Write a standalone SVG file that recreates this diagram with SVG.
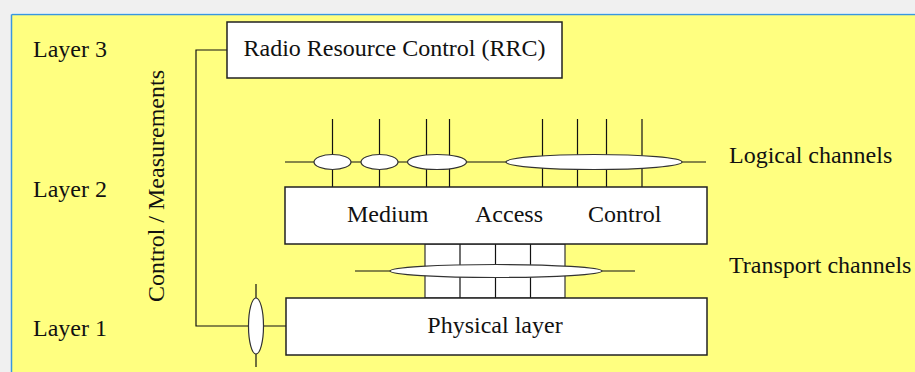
<svg xmlns="http://www.w3.org/2000/svg" width="915" height="372" viewBox="0 0 915 372">
  <style>
    .lbl { font-family: 'Liberation Serif', Tinos, 'Times New Roman', 'DejaVu Serif', serif; font-size: 24px; fill: #111; }
    .box { fill: #fff; stroke: #222; stroke-width: 1.5; }
    .ln { stroke: #111; stroke-width: 1.2; fill: none; }
    .ell { fill: #fff; stroke: #333; stroke-width: 1.2; }
  </style>

  <!-- page backdrop and framed panel -->
  <rect x="0" y="0" width="915" height="372" fill="#f0f0f0"/>
  <rect x="11" y="13" width="904" height="359" fill="#ffffff"/>
  <rect x="12" y="15" width="903" height="357" fill="#ffff80"/>
  <line x1="11.5" y1="14.5" x2="915" y2="14.5" stroke="#3a96e0" stroke-width="1.5"/>
  <line x1="11.5" y1="14.5" x2="11.5" y2="372" stroke="#3a96e0" stroke-width="1.5"/>

  <!-- layer labels -->
  <text class="lbl" x="33" y="57">Layer 3</text>
  <text class="lbl" x="33" y="197">Layer 2</text>
  <text class="lbl" x="33" y="336">Layer 1</text>
  <text class="lbl" transform="translate(164,186) rotate(-90)" text-anchor="middle">Control / Measurements</text>
  <text class="lbl" x="729" y="163">Logical channels</text>
  <text class="lbl" x="729" y="273">Transport channels</text>

  <!-- connectors -->
  <g id="connectors">
    <!-- control path from RRC to physical layer -->
    <polyline class="ln" points="227,50 196,50 196,326 286,326"/>
    <line class="ln" x1="256" y1="284" x2="256" y2="367"/>
    <ellipse class="ell" cx="256" cy="326" rx="7.5" ry="28"/>

    <!-- logical channels -->
    <line class="ln" x1="285" y1="162" x2="706" y2="162"/>
    <line class="ln" x1="332.5" y1="119" x2="332.5" y2="187"/>
    <line class="ln" x1="379.5" y1="119" x2="379.5" y2="187"/>
    <line class="ln" x1="426.5" y1="119" x2="426.5" y2="187"/>
    <line class="ln" x1="449.5" y1="119" x2="449.5" y2="187"/>
    <line class="ln" x1="542.5" y1="119" x2="542.5" y2="187"/>
    <line class="ln" x1="577.5" y1="119" x2="577.5" y2="187"/>
    <line class="ln" x1="606.5" y1="119" x2="606.5" y2="187"/>
    <line class="ln" x1="642" y1="119" x2="642" y2="187"/>
    <ellipse class="ell" cx="332.5" cy="162" rx="18.5" ry="7.5"/>
    <ellipse class="ell" cx="379.5" cy="162" rx="18.5" ry="7.5"/>
    <ellipse class="ell" cx="437" cy="162" rx="29.5" ry="7.5"/>
    <ellipse class="ell" cx="594" cy="162" rx="88" ry="7.5"/>

    <!-- transport channels -->
    <rect x="425" y="244" width="140" height="54" fill="#fff" stroke="#333" stroke-width="1.2"/>
    <line class="ln" x1="460" y1="244" x2="460" y2="298"/>
    <line class="ln" x1="495.5" y1="244" x2="495.5" y2="298"/>
    <line class="ln" x1="530.5" y1="244" x2="530.5" y2="298"/>
    <line class="ln" x1="355" y1="271" x2="635" y2="271"/>
    <ellipse class="ell" cx="496" cy="271" rx="106" ry="6.5"/>
  </g>

  <!-- nodes -->
  <g id="rrc">
    <rect class="box" x="227" y="22" width="335" height="56"/>
    <text class="lbl" x="394.5" y="56" text-anchor="middle">Radio Resource Control (RRC)</text>
  </g>
  <g id="mac">
    <rect class="box" x="285" y="187" width="422" height="57"/>
    <text class="lbl" x="347" y="222">Medium</text>
    <text class="lbl" x="475" y="222">Access</text>
    <text class="lbl" x="588" y="222">Control</text>
  </g>
  <g id="phy">
    <rect class="box" x="286" y="298" width="421" height="57"/>
    <text class="lbl" x="495" y="333" text-anchor="middle">Physical layer</text>
  </g>
</svg>
